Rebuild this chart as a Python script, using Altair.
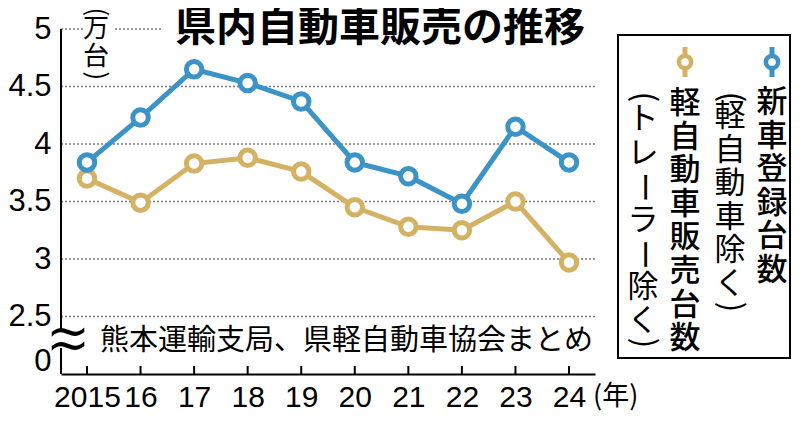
import altair as alt
import pandas as pd

# ---- data ----
years = [2015, 2016, 2017, 2018, 2019, 2020, 2021, 2022, 2023, 2024]
new_car = [3.84, 4.23, 4.65, 4.53, 4.37, 3.84, 3.72, 3.48, 4.15, 3.84]   # 新車登録台数（軽自動車除く）
kei_car = [3.70, 3.49, 3.83, 3.88, 3.76, 3.45, 3.28, 3.25, 3.50, 2.97]   # 軽自動車販売台数（トレーラー除く）
grid_values = [2.5, 3.0, 3.5, 4.0, 4.5]
y_tick_values = [2.11, 2.5, 3.0, 3.5, 4.0, 4.5, 5.0]
title_text = "県内自動車販売の推移"
source_text = "熊本運輸支局、県軽自動車協会まとめ"
unit_lines = ["万", "台"]
year_unit = "(年)"
legend_new_main = ["新", "車", "登", "録", "台", "数"]
legend_new_sub = ["軽", "自", "動", "車", "除", "く"]
legend_kei_main = ["軽", "自", "動", "車", "販", "売", "台", "数"]
legend_kei_sub = ["ト", "レ", "ー", "ラ", "ー", "除", "く"]

BLUE = "#3b93c6"
TAN = "#d4b264"
JP = "Noto Sans CJK JP"
NUM = "Liberation Sans"

W, H = 534, 345

df = pd.DataFrame({
    "year": years * 2,
    "value": new_car + kei_car,
    "series": ["new"] * len(years) + ["kei"] * len(years),
})
df_years = pd.DataFrame({"year": years})
df_grid = pd.DataFrame({"value": grid_values})
one = pd.DataFrame({"a": [0]})

xs = alt.Scale(domain=[2014.515, 2024.485], nice=False, zero=False)
ys = alt.Scale(domain=[2.0, 5.0], nice=False, zero=False)

x_axis = alt.Axis(
    values=years, format="d",
    labelExpr="datum.value == 2015 ? datum.label : slice(datum.label, 2)",
    domain=True, domainColor="black", domainWidth=2, ticks=False, grid=False,
    labelFont=NUM, labelFontSize=30, labelColor="black", labelPadding=8,
    labelFlush=False, labelOverlap=False, title=None,
)
y_axis = alt.Axis(
    values=y_tick_values,
    labelExpr="datum.value < 2.4 ? '0' : format(datum.value, '~g')",
    domain=False, ticks=False, grid=False,
    labelFont=NUM, labelFontSize=31, labelColor="black", labelPadding=10,
    labelFlush=False, labelOverlap=False, title=None,
)

X = alt.X("year:Q", scale=xs, axis=x_axis)
Y = alt.Y("value:Q", scale=ys, axis=y_axis)

# gridlines (dotted)
grid = alt.Chart(df_grid).mark_rule(color="#777777", strokeWidth=1.3, strokeDash=[2, 2]).encode(y=Y)
grid_top1 = alt.Chart(one).mark_rule(color="#777777", strokeWidth=1.3, strokeDash=[2, 2]).encode(
    x=alt.value(0), x2=alt.value(22), y=alt.value(0))
grid_top2 = alt.Chart(one).mark_rule(color="#777777", strokeWidth=1.3, strokeDash=[2, 2]).encode(
    x=alt.value(54), x2=alt.value(100), y=alt.value(0))

# x ticks (inward)
ticks = alt.Chart(df_years).mark_rule(color="black", strokeWidth=2).encode(
    x=X, y=alt.value(H - 8), y2=alt.value(H),
)

# y axis line with break
yaxis_top = alt.Chart(one).mark_rule(color="black", strokeWidth=2).encode(
    x=alt.value(0), y=alt.value(0), y2=alt.value(303))
yaxis_bot = alt.Chart(one).mark_rule(color="black", strokeWidth=2).encode(
    x=alt.value(0), y=alt.value(319), y2=alt.value(H))
wave1 = alt.Chart(one).mark_text(font="DejaVu Sans", fontSize=52, color="black", align="center", baseline="middle").encode(
    x=alt.value(7), y=alt.value(303), text=alt.value("~"))
wave2 = alt.Chart(one).mark_text(font="DejaVu Sans", fontSize=52, color="black", align="center", baseline="middle").encode(
    x=alt.value(7), y=alt.value(317), text=alt.value("~"))

def series_layers(key, color):
    base = alt.Chart(df).transform_filter(alt.datum.series == key)
    line = base.mark_line(color=color, strokeWidth=5).encode(x=X, y=Y)
    pts = base.mark_point(shape="circle", filled=True, fill="white", stroke=color,
                          strokeWidth=5, size=240, opacity=1).encode(x=X, y=Y)
    return line + pts

kei_layers = series_layers("kei", TAN)
new_layers = series_layers("new", BLUE)

def txt(text, xp, yp, size, align="center", weight="normal", angle=0, font=JP, lh=None):
    kw = dict(font=font, fontSize=size, fontWeight=weight, color="black",
              align=align, baseline="middle", angle=angle)
    if lh is not None:
        kw["lineHeight"] = lh
    return alt.Chart(one).mark_text(**kw).encode(
        x=alt.value(xp), y=alt.value(yp), text=alt.value(text))

# texts
title = txt(title_text, 114, 0, 41, align="left", weight="bold")
unit = txt(unit_lines, 35, 0, 26, lh=28) + txt("(", 35, -17, 26, angle=90) + txt(")", 35, 47, 26, angle=90)
source = txt(source_text, 39, 312, 29, align="left")
yunit = txt(year_unit, 532, 368, 27, align="left")

# legend box
box = alt.Chart(one).mark_rect(fill="transparent", stroke="black", strokeWidth=2).encode(
    x=alt.value(557), x2=alt.value(729), y=alt.value(6), y2=alt.value(329))

def legend_marker(xp, color):
    stem = alt.Chart(one).mark_rule(color=color, strokeWidth=5).encode(
        x=alt.value(xp), y=alt.value(18), y2=alt.value(48))
    dot = alt.Chart(one).mark_point(shape="circle", filled=True, fill="white", stroke=color,
                                     strokeWidth=4.5, size=150, opacity=1).encode(
        x=alt.value(xp), y=alt.value(33))
    return stem + dot

def vchars(chars, xp, y0, size=31, weight="normal", lh=33.6):
    """Vertical writing: one text mark per character, rotating the long-vowel mark."""
    out = None
    for i, ch in enumerate(chars):
        layer = txt(ch, xp, y0 + i * lh, size, weight=weight, angle=90 if ch == "ー" else 0)
        out = layer if out is None else out + layer
    return out

LH = 33.6
legend = (
    box
    + legend_marker(711, BLUE)
    + legend_marker(624, TAN)
    + txt(legend_new_main, 711, 74, 31, weight=500, lh=LH)
    + txt("(", 669, 68, 31, angle=90) + txt(legend_new_sub, 669, 88, 31, lh=LH) + txt(")", 669, 278, 31, angle=90)
    + txt(legend_kei_main, 624, 75, 31, weight=500, lh=LH)
    + txt("(", 582, 68, 31, angle=90) + vchars(legend_kei_sub, 582, 91, lh=LH)
    + txt(")", 582, 314, 31, angle=90)
)

chart = alt.layer(
    grid, grid_top1, grid_top2, ticks, yaxis_top, yaxis_bot, wave1, wave2,
    kei_layers, new_layers, title, unit, source, yunit, legend,
).properties(
    width=W, height=H,
    autosize=alt.AutoSizeParams(type="none"),
    padding={"left": 53, "top": 21, "right": 197, "bottom": 39},
    background="white",
).configure_view(strokeWidth=0)

chart.save("out.html", embed_options={"renderer": "svg", "actions": False})
